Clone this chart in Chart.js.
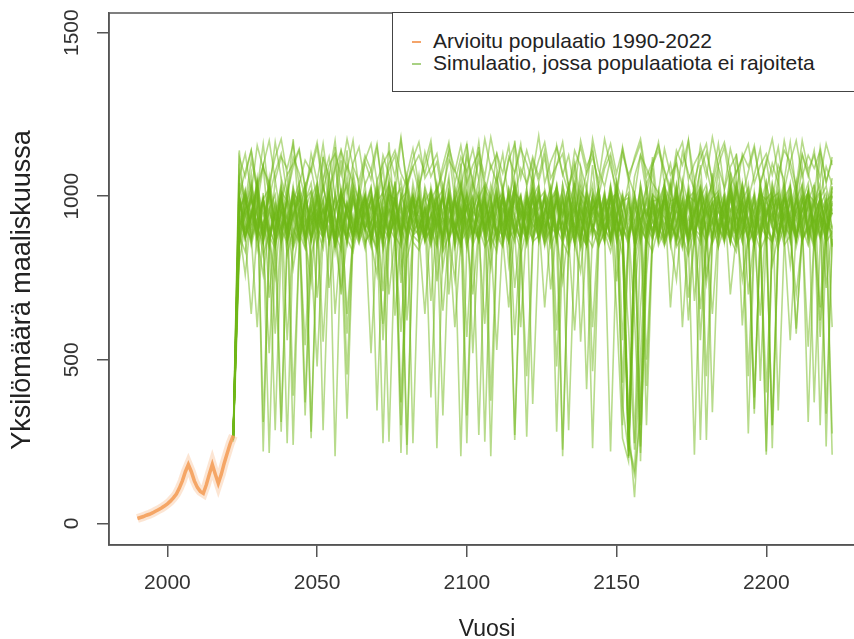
<!DOCTYPE html>
<html lang="fi">
<head>
<meta charset="UTF-8">
<title>Yksilömäärä maaliskuussa</title>
<script src="https://cdn.jsdelivr.net/npm/chart.js"></script>
<style>
  html, body { margin: 0; padding: 0; background: #fff; overflow: hidden; }
  #wrap { position: relative; width: 870px; height: 639px; }
  #legend {
    position: absolute; left: 392px; top: 12px; width: 480px; height: 80px;
    border: 1.5px solid #444; background: #fff; box-sizing: border-box;
    font-family: "Liberation Sans", Arial, sans-serif; font-size: 21px; color: #222;
  }
  .row { position: absolute; left: 40px; white-space: nowrap; line-height: 22px; }
  .mark { position: absolute; left: -21px; top: 11px; width: 9px; height: 2px; }
</style>
</head>
<body>
<div id="wrap">
  <canvas id="chart"></canvas>
  <div id="legend">
    <div class="row" style="top:17px"><span class="mark" style="background:#f4a46a"></span>Arvioitu populaatio 1990-2022</div>
    <div class="row" style="top:39px"><span class="mark" style="background:#a8d183"></span>Simulaatio, jossa populaatiota ei rajoiteta</div>
  </div>
</div>

<script>
// akselit
const xTicks = [2000, 2050, 2100, 2150, 2200];
const yTicks = [0, 500, 1000, 1500];

// arvioitu populaatio 1990-2022
const orangeYears = [1990,1991,1992,1993,1994,1995,1996,1997,1998,1999,2000,2001,2002,2003,2004,2005,2006,2007,2008,2009,2010,2011,2012,2013,2014,2015,2016,2017,2018,2019,2020,2021,2022];
const orangeVals = [15,18,21,25,28,32,37,42,47,53,60,68,78,90,108,130,158,180,158,130,110,98,92,118,150,180,150,122,150,185,215,245,268];

// simulaatiot (joka toinen vuosi)
const simYears = [2022,
  2024,2026,2028,2030,2032,2034,2036,2038,2040,2042,
  2044,2046,2048,2050,2052,2054,2056,2058,2060,2062,
  2064,2066,2068,2070,2072,2074,2076,2078,2080,2082,
  2084,2086,2088,2090,2092,2094,2096,2098,2100,2102,
  2104,2106,2108,2110,2112,2114,2116,2118,2120,2122,
  2124,2126,2128,2130,2132,2134,2136,2138,2140,2142,
  2144,2146,2148,2150,2152,2154,2156,2158,2160,2162,
  2164,2166,2168,2170,2172,2174,2176,2178,2180,2182,
  2184,2186,2188,2190,2192,2194,2196,2198,2200,2202,
  2204,2206,2208,2210,2212,2214,2216,2218,2220,2222];

const sim01 = [262,
  905,1010,860,975,1090,890,940,310,870,985,
  930,845,1000,905,1120,960,870,720,940,1005,
  880,955,1025,850,610,915,990,870,1060,935,
  990,870,945,230,860,1010,905,955,840,975,
  1150,900,960,875,1005,790,920,865,985,940,
  870,1000,930,480,880,965,1040,905,850,990,
  940,860,1015,915,880,265,830,975,900,1085,
  905,970,850,1000,935,690,885,950,1020,870,
  990,915,860,1130,945,880,335,900,965,905,
  860,1000,925,870,985,1040,890,570,920,975];
const sim02 = [258,
  1000,880,945,1040,865,930,580,905,985,850,
  925,1010,280,880,960,895,1100,940,860,995,
  915,840,980,905,1030,870,945,735,900,960,
  1065,900,850,965,915,990,860,205,850,940,
  880,975,920,1010,860,940,1170,905,870,985,
  940,660,895,1000,870,955,910,850,1030,895,
  985,900,860,945,1010,880,925,190,830,990,
  870,955,1045,900,840,975,910,995,760,880,
  960,905,1075,865,940,450,890,1000,925,860,
  995,880,940,1020,870,915,985,300,875,950];
const sim03 = [270,
  860,985,920,1055,885,950,900,1000,860,940,
  995,370,870,950,905,1010,855,940,1140,890,
  960,900,845,980,925,1005,870,950,240,880,
  930,1000,880,960,780,915,985,860,1040,905,
  870,955,205,860,975,900,1020,890,945,860,
  1000,905,960,870,1035,920,855,980,410,900,
  950,880,1005,930,865,960,900,235,760,985,
  910,860,990,1110,920,870,955,1000,880,640,
  905,985,860,940,1010,895,350,880,960,920,
  1060,890,950,870,995,915,860,975,1010,900];
const sim04 = [265,
  995,870,940,1010,880,215,845,960,905,990,
  870,955,1015,900,840,975,1150,890,950,870,
  940,1000,860,920,245,860,985,905,1040,880,
  900,960,870,990,1020,700,915,855,1160,940,
  985,890,950,870,1005,905,270,850,960,920,
  1030,880,950,860,995,915,970,840,900,1095,
  905,985,860,940,430,875,1005,920,860,985,
  950,1040,870,915,995,860,940,1010,255,880,
  960,900,1070,870,985,930,850,970,1045,905,
  840,960,1000,885,935,310,870,990,905,950];
const sim05 = [255,
  910,960,1070,880,990,905,850,280,870,1005,
  945,1030,870,920,990,860,945,1110,905,850,
  985,900,940,1045,865,960,905,995,620,880,
  1020,875,940,890,330,860,985,920,1010,880,
  955,990,870,1060,915,950,880,935,1000,365,
  850,940,1005,900,970,865,1085,930,880,975,
  915,1010,870,945,985,900,630,215,845,960,
  880,995,940,860,1050,970,900,855,1005,930,
  1080,900,960,920,860,1000,945,880,220,870,
  985,920,1025,870,955,990,900,1130,940,880];
const sim06 = [268,
  1140,940,1005,880,960,850,1050,930,875,990,
  905,950,260,860,930,1010,895,985,860,1075,
  960,890,1000,940,850,1165,905,960,870,935,
  1000,905,940,985,860,1040,920,830,990,880,
  950,1020,375,870,915,995,900,960,860,1060,
  905,935,990,865,225,855,975,910,1010,940,
  985,880,930,1045,905,860,950,1015,500,880,
  940,995,880,965,1030,885,925,1095,870,985,
  900,955,1025,870,940,275,860,990,920,1040,
  935,1000,880,960,905,1020,870,940,335,870];
const sim07 = [250,
  800,915,990,940,875,1040,960,900,945,240,
  850,1005,915,950,870,1065,935,860,980,910,
  1020,940,870,965,1090,905,985,880,940,1000,
  905,960,385,860,1015,920,975,880,1080,930,
  870,980,915,1000,860,945,990,900,265,850,
  1010,925,960,870,995,880,945,1045,910,960,
  990,905,1030,940,865,975,920,985,880,1120,
  945,870,990,915,1035,860,210,850,960,905,
  980,945,880,1060,930,870,960,1010,905,950,
  880,995,925,595,870,985,1035,910,955,1055];
const sim08 = [275,
  960,880,935,1015,310,860,950,1000,905,985,
  1040,870,940,960,900,1005,205,870,975,920,
  880,985,905,1035,950,865,960,1050,920,890,
  975,930,1010,860,945,990,900,1100,880,955,
  920,1005,900,950,985,870,1050,935,860,960,
  990,905,940,1030,870,285,840,960,915,1000,
  900,955,1010,880,945,1045,870,935,300,860,
  985,905,1030,925,960,870,945,1005,890,1070,
  870,950,1025,900,965,920,1000,435,870,985,
  930,1030,895,960,1090,880,940,990,905,275];
const sim09 = [260,
  1080,990,905,960,870,1010,935,880,1000,1175,
  940,870,985,915,1030,950,860,925,455,880,
  960,900,995,940,865,1045,920,970,880,1015,
  880,945,1000,905,960,1060,860,940,990,895,
  270,845,950,1025,900,960,880,995,930,1080,
  905,985,870,1000,940,1030,885,960,910,230,
  840,990,915,1020,950,870,975,900,1035,920,
  960,935,880,1015,945,860,1005,920,960,1050,
  885,955,1000,870,1020,930,385,875,990,910,
  1030,920,985,870,955,1015,900,975,860,1000];
const sim10 = [262,
  880,960,1040,905,990,870,950,1030,860,945,
  1005,915,960,870,1035,940,995,880,320,870,
  930,1005,880,960,860,1025,940,900,985,245,
  850,960,905,1040,935,870,995,920,965,1050,
  905,940,1010,870,990,915,1035,880,960,1000,
  870,1020,940,985,880,1005,900,1085,925,960,
  1025,890,220,850,985,920,1005,870,955,900,
  945,1040,880,990,920,1020,865,960,1000,340,
  860,985,915,1030,890,960,1005,870,990,930,
  1010,900,955,1045,865,985,920,1000,880,1030];
const sim11 = [266,
  950,1020,880,995,905,1055,860,975,930,1010,
  890,985,1040,905,960,860,1010,920,1060,870,
  990,900,960,345,860,1030,915,985,880,1040,
  935,870,1010,950,880,1000,860,1035,920,965,
  1050,890,975,920,1015,870,950,1000,885,1030,
  920,995,870,1035,940,1000,880,975,850,1015,
  960,870,1005,900,820,310,80,390,880,985,
  990,905,1025,870,960,1010,880,1040,935,975,
  880,1015,950,1035,900,995,860,1025,945,1000,
  965,1045,885,990,920,1015,870,1000,950,1030];
const sim12 = [258,
  1000,900,945,1040,220,860,975,880,1025,935,
  870,990,1015,920,1055,860,960,1005,880,1030,
  945,990,860,1010,905,1045,950,370,870,985,
  880,1020,955,860,1005,910,990,1040,870,960,
  1010,885,975,1065,920,860,1015,945,880,1000,
  860,950,1025,900,995,870,1035,940,860,1005,
  930,1015,870,985,910,205,860,960,1025,880,
  1000,870,945,1035,905,990,860,1020,950,880,
  1030,945,865,1000,880,1035,930,985,870,1015,
  890,960,1040,870,955,1010,370,860,990,905];
const sim13 = [272,
  1120,1060,1140,1010,1095,1170,1050,1120,1085,1160,
  1035,1110,1075,1150,1020,1095,1130,1065,1175,1090,
  1045,1125,1080,1160,1010,1100,1140,1070,1030,1115,
  1165,1055,1090,1130,1020,1110,1075,1155,1040,1095,
  1135,1060,1180,1085,1015,1120,1070,1145,1100,1040,
  1110,1165,1055,1095,1130,1025,1085,1150,1070,1120,
  1045,1175,1090,1020,1130,1065,1110,1160,1035,1095,
  1140,1075,1010,1120,1165,1050,1100,1135,1060,1180,
  1090,1025,1145,1070,1115,1160,1040,1095,1130,1065,
  1150,1020,1105,1170,1060,1125,1085,1140,1045,1110];
const sim14 = [264,
  1060,1130,1010,1155,1085,1040,1120,1175,1065,1100,
  1145,1030,1090,1165,1050,1120,1005,1140,1080,1170,
  1020,1110,1160,1045,1100,1135,1060,1180,1025,1090,
  1125,1070,1150,1010,1095,1165,1040,1120,1075,1145,
  1050,1175,1085,1130,1020,1110,1160,1055,1140,1070,
  1185,1040,1105,1150,1065,1125,1015,1170,1090,1135,
  1030,1100,1160,1070,1145,1045,1120,1175,1060,1105,
  1155,1080,1025,1140,1095,1170,1050,1115,1160,1035,
  1120,1165,1075,1010,1130,1090,1155,1040,1100,1175,
  1065,1140,1105,1030,1170,1080,1125,1055,1160,1095];
const sim15 = [268,
  845,960,1025,880,990,870,285,860,1000,905,
  1035,940,870,1010,915,985,860,1025,940,1055,
  880,995,920,1015,860,975,1035,900,210,870,
  985,880,1030,940,1005,860,960,1015,905,990,
  870,1035,940,995,880,1020,935,860,1005,950,
  1025,900,985,870,1035,945,1005,880,960,465,
  860,995,905,1025,945,870,1005,920,990,880,
  1020,940,870,1035,915,1000,935,255,860,980,
  1005,890,1030,945,990,860,1015,900,1040,950,
  870,1005,925,990,1035,880,970,1010,860,985];
const sim16 = [259,
  990,880,1035,945,860,1010,920,985,1065,870,
  960,1025,870,1005,285,850,960,1015,880,1000,
  930,1035,870,985,1010,865,995,1025,905,1000,
  860,985,1015,900,1035,950,995,870,1010,945,
  1025,880,995,860,1005,940,1035,960,875,1000,
  900,1010,965,1030,205,850,995,880,1015,960,
  995,870,1025,930,1000,880,245,880,1005,930,
  860,1015,960,995,880,1035,945,1000,870,1020,
  965,1005,870,1035,950,995,865,1025,935,1000,
  880,995,1030,920,1005,860,985,1015,900,210];
const sim17 = [263,
  880,1015,940,995,860,1035,930,1005,870,1025,
  960,870,995,1040,905,1000,860,1015,950,880,
  1030,920,995,860,1005,940,1040,870,995,910,
  1005,865,990,1025,900,995,850,1020,960,880,
  995,1035,870,985,1010,860,1000,935,1025,880,
  990,1015,875,1000,925,1035,960,855,1005,940,
  1025,870,990,1010,905,995,860,1035,940,1000,
  870,1005,940,1025,860,995,1015,880,990,1035,
  915,995,860,1020,945,1005,850,1030,935,995,
  1010,870,995,940,1035,880,1000,945,860,1015];
const sim18 = [255,
  850,905,870,930,820,890,945,860,910,840,
  895,330,820,900,875,935,850,910,880,945,
  860,920,885,840,905,870,930,215,810,890,
  925,870,900,845,935,880,910,860,895,930,
  870,915,845,900,880,940,255,820,905,870,
  930,860,905,885,920,850,895,935,870,910,
  845,900,870,930,880,205,800,900,865,925,
  890,850,915,875,940,860,900,880,925,855,
  905,870,935,850,895,920,865,905,880,300,
  850,910,880,935,865,900,925,870,915,890];
const sim19 = [270,
  935,880,960,905,990,870,950,920,245,860,
  940,905,975,890,955,920,985,900,965,930,
  880,950,915,975,900,960,930,890,970,920,
  955,900,985,920,870,945,905,975,330,880,
  945,910,970,890,960,925,985,905,950,915,
  880,960,930,990,900,950,915,870,960,925,
  975,905,950,880,940,310,870,930,960,900,
  920,985,900,955,930,890,965,915,950,980,
  905,940,880,965,920,985,900,950,210,880,
  930,965,905,950,885,975,920,945,900,960];
const sim20 = [261,
  995,870,940,1025,880,960,1005,850,995,930,
  1015,880,960,1035,905,995,860,1010,945,880,
  1025,960,870,1000,915,250,850,990,1015,900,
  960,1005,870,1030,940,995,865,1015,960,1000,
  870,1025,985,900,1005,945,1035,880,995,930,
  1010,865,990,1025,905,1000,850,1015,985,880,
  995,930,1035,870,985,1010,860,995,940,1025,
  880,995,930,1015,860,1000,985,1030,880,960,
  1005,860,995,920,1035,960,870,1005,990,1015,
  345,860,995,880,1025,930,1000,870,985,1005];
const sim21 = [267,
  960,1005,880,1035,940,995,860,1015,985,390,
  840,995,905,1025,950,1005,870,990,1035,880,
  1000,935,1015,870,990,1035,880,1005,945,995,
  880,1030,960,1000,860,1015,945,995,870,1040,
  985,250,860,995,905,1025,960,1005,870,995,
  1035,900,990,1010,870,1000,945,1025,860,995,
  940,1005,870,1040,985,995,860,1020,935,1000,
  880,1030,985,995,905,1010,870,995,1035,920,
  1000,935,1015,880,990,1025,905,995,860,1035,
  960,995,870,1020,930,1005,985,1040,235,880];
const sim22 = [257,
  1040,935,1005,870,990,1025,905,1000,880,1010,
  985,1035,870,995,930,1015,860,1000,960,1025,
  880,995,960,1020,870,1005,990,880,1035,945,
  1000,870,1015,960,995,880,1030,945,1005,860,
  995,905,1035,960,1000,870,1010,985,880,1020,
  960,995,870,1025,945,1005,860,995,960,1035,
  880,1000,960,1015,870,250,165,515,880,1005,
  985,1035,890,995,930,1010,870,1025,960,995,
  1015,880,1000,960,1035,905,995,870,1005,960,
  995,930,1025,870,985,1010,880,995,1030,945];
const sim23 = [264,
  900,760,950,880,1010,690,905,985,560,880,
  960,870,735,990,905,1020,640,880,955,870,
  1010,905,520,880,960,875,1045,780,900,985,
  870,955,680,930,1000,880,745,960,905,995,
  880,610,935,1005,870,960,720,900,1015,880,
  945,880,1000,590,890,975,860,770,960,905,
  1020,880,950,655,260,190,700,900,985,870,
  935,1000,860,745,955,890,1010,560,880,960,
  905,990,700,880,1040,920,860,635,945,1005,
  870,950,790,1000,905,540,880,965,720,900];
const sim24 = [260,
  1010,870,640,900,985,870,755,960,900,1030,
  880,545,905,990,870,1060,935,700,870,985,
  920,1005,860,760,980,905,870,585,895,1000,
  965,880,1015,900,650,870,990,905,245,860,
  1000,905,780,950,870,1010,885,600,920,990,
  870,960,1030,880,740,905,995,870,960,600,
  905,980,870,1020,560,880,955,300,870,990,
  880,1000,660,905,985,870,1040,920,735,880,
  990,870,950,1005,605,880,960,900,1020,790,
  880,985,920,580,900,1010,870,660,950,1000];
const sim25 = [272,
  870,990,915,1040,860,520,890,1000,905,960,
  1020,880,960,690,905,985,870,1015,580,880,
  950,1005,870,935,710,900,995,870,1030,905,
  880,640,930,1000,870,965,905,1050,880,700,
  905,990,870,530,880,1000,935,870,975,1020,
  880,960,715,905,990,870,1040,555,880,960,
  1000,880,945,990,870,595,225,660,905,980,
  870,1020,905,960,880,995,680,900,985,870,
  960,880,1010,905,745,880,990,870,945,230,
  860,1005,940,870,990,905,1035,620,880,965];
const sim26 = [256,
  955,1000,880,600,915,990,870,1045,930,780,
  905,985,870,960,555,880,1005,920,870,990,
  870,960,1020,905,880,990,635,880,960,1005,
  920,870,995,740,900,1010,880,960,570,880,
  990,875,945,1020,870,660,905,990,870,960,
  905,995,880,960,1015,870,590,880,990,905,
  880,960,1010,740,905,870,990,925,420,880,
  1005,880,945,990,600,880,960,1020,870,955,
  870,1000,920,880,985,700,880,1045,905,870,
  990,880,560,900,960,1005,870,940,995,600];
const sim27 = [268,
  1050,980,1110,1020,1160,995,1075,1130,1005,1090,
  1140,1020,1085,990,1120,1060,1170,1000,1095,1040,
  985,1105,1050,1150,1010,1080,1125,995,1065,1145,
  1030,1100,1170,1015,1075,1135,990,1090,1160,1025,
  1110,1045,995,1130,1070,1155,1005,1085,1040,1120,
  1060,1140,1010,1095,1165,1030,1105,980,1075,1150,
  1000,1085,1130,1045,300,880,1060,1125,1010,1090,
  1165,1040,1100,995,1135,1070,1020,1155,1085,1005,
  1095,1150,1030,1075,1120,990,1065,1145,1015,1100,
  1040,1170,1080,1005,1125,1060,1140,995,1090,1035];
const sim28 = [259,
  1000,1075,1140,1030,1095,1010,1165,1055,990,1120,
  1070,995,1130,1045,1160,1020,1085,1140,1005,1100,
  1150,1035,1080,990,1125,1065,1000,1170,1040,1090,
  1015,1135,1060,1105,995,1150,1080,1025,1120,1050,
  1165,1005,1095,1040,1130,985,1075,1160,1030,1110,
  1045,1120,995,1155,1070,1010,1140,1090,1020,1175,
  1080,1030,1115,990,1150,1060,1005,1125,1085,1040,
  1010,1145,1065,1100,1030,1170,995,1080,1135,1050,
  1160,1020,1090,1125,1000,1075,1145,1035,1110,985,
  1095,1050,1165,1015,1130,1070,1000,1150,1040,1120];
const sim29 = [263,
  880,830,950,870,760,905,850,990,820,900,
  860,935,820,480,880,950,845,905,870,830,
  925,860,890,830,950,700,880,845,920,860,
  835,900,870,945,830,880,600,860,930,850,
  905,845,880,830,955,870,900,835,450,860,
  880,930,845,900,860,820,935,880,850,910,
  850,890,830,925,360,220,840,905,870,830,
  910,860,935,845,880,820,900,655,870,925,
  845,905,870,830,940,860,895,835,880,860,
  925,850,880,700,870,905,840,930,860,890];
const sim30 = [268,
  950,880,1000,835,920,965,860,905,990,850,
  905,970,860,935,880,1000,830,955,640,880,
  985,850,920,965,835,905,990,860,940,880,
  860,930,885,995,845,960,905,850,975,520,
  880,960,845,990,905,860,935,1000,850,915,
  960,850,995,880,925,840,965,895,850,985,
  870,930,985,860,905,200,820,960,880,940,
  995,850,920,870,965,835,990,905,860,930,
  845,975,900,850,990,880,935,860,400,860,
  950,880,1000,845,925,965,860,910,985,850];
const sim31 = [258,
  900,960,850,930,995,880,840,960,905,870,
  1000,875,940,850,980,720,880,945,860,915,
  870,990,905,845,960,880,930,300,860,955,
  940,860,905,985,840,935,880,970,850,910,
  860,935,995,880,845,950,575,870,990,905,
  935,850,905,980,870,940,860,995,880,845,
  905,975,855,930,870,990,845,920,880,960,
  850,900,985,860,930,620,880,955,845,990,
  905,860,940,880,985,850,920,960,870,300,
  880,945,860,990,905,850,935,880,965,845];
const sim32 = [270,
  860,940,990,870,910,845,980,900,860,955,
  890,840,960,905,990,860,930,870,985,850,
  940,905,860,990,560,870,950,905,850,980,
  905,960,850,930,880,990,845,920,960,870,
  985,860,940,900,850,970,905,870,990,860,
  930,880,965,280,850,945,905,870,990,915,
  860,940,880,970,905,850,980,860,930,890,
  960,870,905,990,850,935,880,965,450,870,
  925,990,860,945,880,910,850,975,905,860,
  990,870,930,860,965,905,850,945,880,980];
const sim33 = [261,
  1000,920,860,975,900,1030,870,950,895,1010,
  860,990,925,1035,870,950,905,985,860,1020,
  900,970,1030,860,945,895,1010,870,980,920,
  1035,870,950,905,990,860,1020,920,965,880,
  940,1000,870,960,1030,905,860,985,920,1040,
  870,950,1005,890,960,1030,870,935,995,880,
  1020,905,960,870,1000,940,880,1035,905,960,
  880,1010,935,870,990,905,1040,870,955,920,
  995,870,1030,940,880,975,905,1020,860,950,
  905,1035,880,960,1000,870,945,990,905,1025];
const sim34 = [266,
  930,870,995,905,855,960,890,1020,870,945,
  985,855,920,1000,870,950,890,835,975,905,
  855,940,990,870,915,1000,860,935,890,990,
  900,970,860,935,995,870,910,850,985,920,
  865,990,915,850,945,1005,880,960,870,935,
  995,870,925,985,860,940,900,990,855,960,
  905,860,995,880,950,240,150,330,910,870,
  940,995,860,915,985,870,950,890,1000,860,
  915,870,990,940,860,1005,895,935,880,985,
  870,950,905,995,860,925,985,880,940,900];

const sims = [sim01, sim02, sim03, sim04, sim05, sim06, sim07, sim08, sim09, sim10,
              sim11, sim12, sim13, sim14, sim15, sim16, sim17, sim18, sim19, sim20,
              sim21, sim22, sim23, sim24, sim25, sim26, sim27, sim28, sim29, sim30,
              sim31, sim32, sim33, sim34];

const FONT = '"Liberation Sans", Arial, sans-serif';

const orangePts = orangeYears.map((t, i) => ({ x: t, y: orangeVals[i] }));

const datasets = [
  { data: orangePts, borderColor: 'rgba(244,158,90,0.9)', borderWidth: 3.5, order: 0 },
  { data: orangePts, borderColor: 'rgba(246,168,110,0.3)', borderWidth: 9, order: 0 }
];
sims.forEach(s => {
  datasets.push({
    data: simYears.map((t, i) => ({ x: t, y: s[i] })),
    borderColor: 'rgba(112,184,24,0.5)',
    borderWidth: 1.6,
    order: 1
  });
});

// laatikko, pystyakselin luvut ja akselien otsikot
const boxAndLabels = {
  id: 'boxAndLabels',
  afterDraw(chart) {
    const { ctx, chartArea: a, scales: { y } } = chart;
    ctx.save();
    ctx.strokeStyle = '#555';
    ctx.lineWidth = 1.5;
    ctx.strokeRect(a.left, a.top, a.right - a.left, a.bottom - a.top);

    ctx.fillStyle = '#333';
    ctx.font = '21px ' + FONT;
    ctx.textAlign = 'center';
    ctx.textBaseline = 'middle';
    yTicks.forEach(v => {
      ctx.save();
      ctx.translate(72, y.getPixelForValue(v));
      ctx.rotate(-Math.PI / 2);
      ctx.fillText(String(v), 0, 0);
      ctx.restore();
    });

    ctx.fillStyle = '#222';
    ctx.font = '23px ' + FONT;
    ctx.fillText('Vuosi', 487, 630);
    ctx.save();
    ctx.translate(23, 290);
    ctx.rotate(-Math.PI / 2);
    ctx.font = '27px ' + FONT;
    ctx.fillText('Yksilömäärä maaliskuussa', 0, 0);
    ctx.restore();
    ctx.restore();
  }
};

new Chart(document.getElementById('chart'), {
  type: 'line',
  data: { datasets },
  options: {
    responsive: true,
    maintainAspectRatio: false,
    animation: false,
    devicePixelRatio: 1,
    layout: { padding: { left: 0, right: 10, top: 13, bottom: 0 } },
    elements: { point: { radius: 0 }, line: { tension: 0 } },
    plugins: { legend: { display: false }, tooltip: { enabled: false } },
    scales: {
      x: {
        type: 'linear',
        min: 1980.5,
        max: 2231.3,
        afterBuildTicks: s => { s.ticks = xTicks.map(v => ({ value: v })); },
        afterFit: s => { s.height = 94; },
        grid: { drawOnChartArea: false, drawTicks: true, tickLength: 12, color: '#555', lineWidth: 1.5 },
        border: { display: true, color: '#555', width: 1.5 },
        ticks: { color: '#333', font: { family: FONT, size: 21 }, padding: 14, maxRotation: 0, autoSkip: false,
                 callback: v => String(v) }
      },
      y: {
        min: -66,
        max: 1560,
        afterBuildTicks: s => { s.ticks = yTicks.map(v => ({ value: v })); },
        afterFit: s => { s.width = 109; },
        grid: { drawOnChartArea: false, drawTicks: true, tickLength: 12, color: '#555', lineWidth: 1.5 },
        border: { display: true, color: '#555', width: 1.5 },
        ticks: { display: false }
      }
    }
  },
  plugins: [boxAndLabels]
});
</script>
</body>
</html>
